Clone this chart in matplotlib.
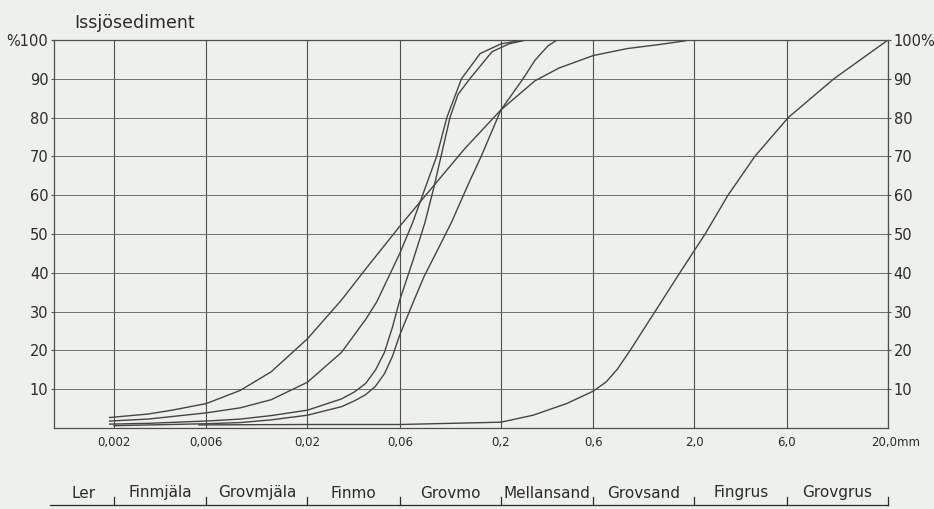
import matplotlib
matplotlib.use("Agg")
from matplotlib import pyplot as plt
from matplotlib.ticker import NullLocator
from matplotlib.transforms import ScaledTranslation

# grain size (mm) vs. passing percent
curve_b_mm = [0.0019, 0.003, 0.004, 0.006, 0.009, 0.013, 0.02, 0.03, 0.04, 0.06, 0.09, 0.13, 0.2, 0.3, 0.4, 0.6, 0.9, 1.3, 1.8]
curve_b_pct = [2.7, 3.6, 4.6, 6.3, 9.7, 14.5, 23, 33, 41, 52, 62.5, 72, 82, 89.5, 92.8, 96, 97.8, 98.8, 99.8]

curve_c_mm = [0.0019, 0.003, 0.006, 0.009, 0.013, 0.02, 0.03, 0.04, 0.0456, 0.06, 0.07, 0.08, 0.093, 0.105, 0.125, 0.156, 0.2, 0.26]
curve_c_pct = [1.8, 2.3, 3.9, 5.2, 7.3, 11.8, 19.5, 28, 32.5, 45, 53, 61, 70, 80, 90, 96.5, 99, 100]

curve_d_mm = [0.0019, 0.003, 0.006, 0.009, 0.013, 0.02, 0.03, 0.035, 0.04, 0.045, 0.05, 0.055, 0.06, 0.07, 0.081, 0.09, 0.098, 0.109, 0.12, 0.138, 0.18, 0.22, 0.27]
curve_d_pct = [1.0, 1.2, 1.8, 2.3, 3.2, 4.6, 7.5, 9.3, 11.5, 15, 19.5, 26, 33, 43, 53, 62, 70, 80, 86, 90, 97, 99, 100]

curve_e_mm = [0.002, 0.006, 0.009, 0.013, 0.02, 0.03, 0.035, 0.04, 0.045, 0.05, 0.055, 0.06, 0.0705, 0.08, 0.09, 0.111, 0.136, 0.158, 0.2, 0.26, 0.3, 0.35, 0.39]
curve_e_pct = [0.6, 1.1, 1.4, 2.1, 3.3, 5.5, 7.0, 8.6, 10.8, 14, 18.5, 24, 32.5, 39, 44, 53, 63, 70, 82, 90, 94.8, 98.5, 100]

curve_a_mm = [0.0055, 0.02, 0.06, 0.2, 0.293, 0.437, 0.6, 0.7, 0.8, 0.93, 1.25, 1.68, 2.27, 2.98, 4.1, 6.1, 10.5, 20]
curve_a_pct = [0.8, 0.9, 0.9, 1.5, 3.3, 6.3, 9.5, 11.9, 15.2, 20, 30, 40, 50, 60, 70, 80, 90, 100]

x_ticks = [0.002, 0.006, 0.02, 0.06, 0.2, 0.6, 2.0, 6.0, 20.0]
x_labels = ["0,002", "0,006", "0,02", "0,06", "0,2", "0,6", "2,0", "6,0", "20,0mm"]
y_ticks = [10, 20, 30, 40, 50, 60, 70, 80, 90, 100]
y_labels_left = ["10", "20", "30", "40", "50", "60", "70", "80", "90", "%100"]
y_labels_right = ["10", "20", "30", "40", "50", "60", "70", "80", "90", "100%"]

fractions = ["Ler", "Finmjäla", "Grovmjäla", "Finmo", "Grovmo", "Mellansand", "Grovsand", "Fingrus", "Grovgrus"]
fraction_edges = [0.00098, 0.002, 0.006, 0.02, 0.06, 0.2, 0.6, 2.0, 6.0, 20.0]

title = "Issjösediment"

paper = "#eef0eb"
ink = "#2b2b2b"
line_col = "#454545"

W, H = 934, 509
fig = plt.figure(figsize=(W / 100, H / 100), dpi=100)
fig.patch.set_facecolor(paper)

ax = fig.add_axes([54 / W, 1 - 428 / H, 834 / W, 388 / H])
ax.set_facecolor(paper)
ax.set_xscale("log")
ax.set_xlim(0.00098, 20)
ax.set_ylim(0, 100)

for mm, pct in [(curve_b_mm, curve_b_pct), (curve_c_mm, curve_c_pct), (curve_d_mm, curve_d_pct),
                (curve_e_mm, curve_e_pct), (curve_a_mm, curve_a_pct)]:
    ax.plot(mm, pct, color=line_col, lw=1.0, solid_joinstyle="round")

ax.xaxis.set_minor_locator(NullLocator())
ax.set_xticks(x_ticks)
ax.set_xticklabels(x_labels, fontsize=8.5, color=ink)
ax.set_yticks(y_ticks)
ax.set_yticklabels(y_labels_left, fontsize=10.5, color=ink)
# vertical lines a touch darker than the horizontal ones, like the print
ax.grid(True, axis="x", color="#4e4e4e", lw=0.8)
ax.grid(True, axis="y", color="#6e6e6e", lw=0.7)
ax.tick_params(axis="x", length=0, pad=6)
ax.tick_params(axis="y", length=2, width=0.8, pad=2, color="#555555")
for s in ax.spines.values():
    s.set_color("#4e4e4e")
    s.set_linewidth(0.9)

# "20,0mm" sits with its number on the last line
lab = ax.get_xticklabels()[-1]
lab.set_transform(lab.get_transform() + ScaledTranslation(0.08, 0, fig.dpi_scale_trans))

ax_r = ax.twinx()
ax_r.set_ylim(0, 100)
ax_r.set_yticks(y_ticks)
ax_r.set_yticklabels(y_labels_right, fontsize=10.5, color=ink)
ax_r.tick_params(axis="y", length=2, width=0.8, pad=2, color="#555555")
for s in ax_r.spines.values():
    s.set_visible(False)

fig.text(74 / W, 1 - 28 / H, title, fontsize=12.5, color=ink, ha="left", va="baseline")

# fraction names under the chart
ax2 = fig.add_axes([54 / W, 1 - 505 / H, 834 / W, 30 / H])
ax2.set_xscale("log")
ax2.set_xlim(0.00098, 20)
ax2.set_ylim(0, 1)
ax2.axis("off")
ax2.plot([0.00093, 20], [0, 0], color=ink, lw=0.9, clip_on=False)
for e in fraction_edges[1:]:
    ax2.plot([e, e], [0, 0.27], color=ink, lw=0.9, clip_on=False)
for i, name in enumerate(fractions):
    mid = (fraction_edges[i] * fraction_edges[i + 1]) ** 0.5
    ax2.text(mid, 0.25, name, fontsize=11, color=ink, ha="center", va="baseline")

plt.savefig("out.png", dpi=100, facecolor=paper)
